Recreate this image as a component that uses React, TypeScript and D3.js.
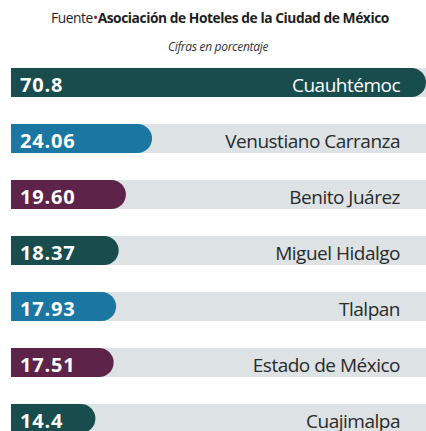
import { useEffect, useRef } from 'react';
import * as d3 from 'd3';

const categories = [
  'Cuauhtémoc',
  'Venustiano Carranza',
  'Benito Juárez',
  'Miguel Hidalgo',
  'Tlalpan',
  'Estado de México',
  'Cuajimalpa',
];
const values = [70.8, 24.06, 19.6, 18.37, 17.93, 17.51, 14.4];
const valueLabels = ['70.8', '24.06', '19.60', '18.37', '17.93', '17.51', '14.4'];
const barColors = ['#194c4d', '#1b77a1', '#5e2349', '#194c4d', '#1b77a1', '#5e2349', '#194c4d'];

const WIDTH = 426;
const HEIGHT = 431;
const FONT = "'Open Sans', sans-serif";

export default function App() {
  const ref = useRef<SVGSVGElement | null>(null);

  useEffect(() => {
    if (!ref.current) return;
    const svg = d3.select(ref.current);
    svg.selectAll('*').remove();

    const left = 11;
    const step = 56;
    const bh = 29;
    const top = 68;

    const x = d3.scaleLinear().domain([0, 70.8]).range([0, 415]);
    const y = d3.scaleBand<string>()
      .domain(categories)
      .range([top, top + step * categories.length - (step - bh)])
      .paddingInner((step - bh) / step)
      .paddingOuter(0);

    // title
    const title = svg.append('text')
      .attr('x', 220)
      .attr('y', 23)
      .attr('text-anchor', 'middle')
      .attr('font-family', FONT)
      .attr('font-size', 13.8)
      .attr('fill', '#1e1e1e')
      .attr('letter-spacing', -0.45);
    title.append('tspan').text('Fuente');
    title.append('tspan').attr('fill', '#8c1c3c').text('•');
    title.append('tspan').attr('font-weight', 'bold').text('Asociación de Hoteles de la Ciudad de México');

    svg.append('text')
      .attr('x', 218)
      .attr('y', 51)
      .attr('text-anchor', 'middle')
      .attr('font-family', FONT)
      .attr('font-style', 'italic')
      .attr('font-size', 12)
      .attr('fill', '#333')
      .attr('letter-spacing', -0.3)
      .text('Cifras en porcentaje');

    const data = categories.map((c, i) => ({ c, v: values[i], label: valueLabels[i], color: barColors[i] }));

    const rows = svg.selectAll('g.row')
      .data(data)
      .enter()
      .append('g')
      .attr('class', 'row')
      .attr('transform', d => `translate(0,${y(d.c)})`);

    const h = y.bandwidth();

    // track
    rows.append('rect')
      .attr('x', left)
      .attr('y', 0)
      .attr('width', WIDTH - left)
      .attr('height', h)
      .attr('fill', '#dde2e5');

    // bar: square left, rounded right
    rows.append('path')
      .attr('fill', d => d.color)
      .attr('d', d => {
        const w = x(d.v);
        const r = h / 2;
        return `M${left},0H${left + w - r}A${r},${r} 0 0 1 ${left + w - r},${h}H${left}Z`;
      });

    rows.append('text')
      .attr('x', 20)
      .attr('y', h / 2 + 9)
      .attr('font-family', FONT)
      .attr('font-weight', 'bold')
      .attr('font-size', 20)
      .attr('letter-spacing', 0.8)
      .attr('fill', '#fff')
      .text(d => d.label);

    rows.append('text')
      .attr('x', 400)
      .attr('y', h / 2 + 9)
      .attr('text-anchor', 'end')
      .attr('font-family', FONT)
      .attr('font-size', 19)
      .attr('letter-spacing', -0.5)
      .attr('fill', (d, i) => (i === 0 ? '#fff' : '#2a2a2a'))
      .text(d => d.c);
  }, []);

  return (
    <svg
      ref={ref}
      width={WIDTH}
      height={HEIGHT}
      style={{ position: 'absolute', left: 0, top: 0, background: '#fff' }}
    />
  );
}
